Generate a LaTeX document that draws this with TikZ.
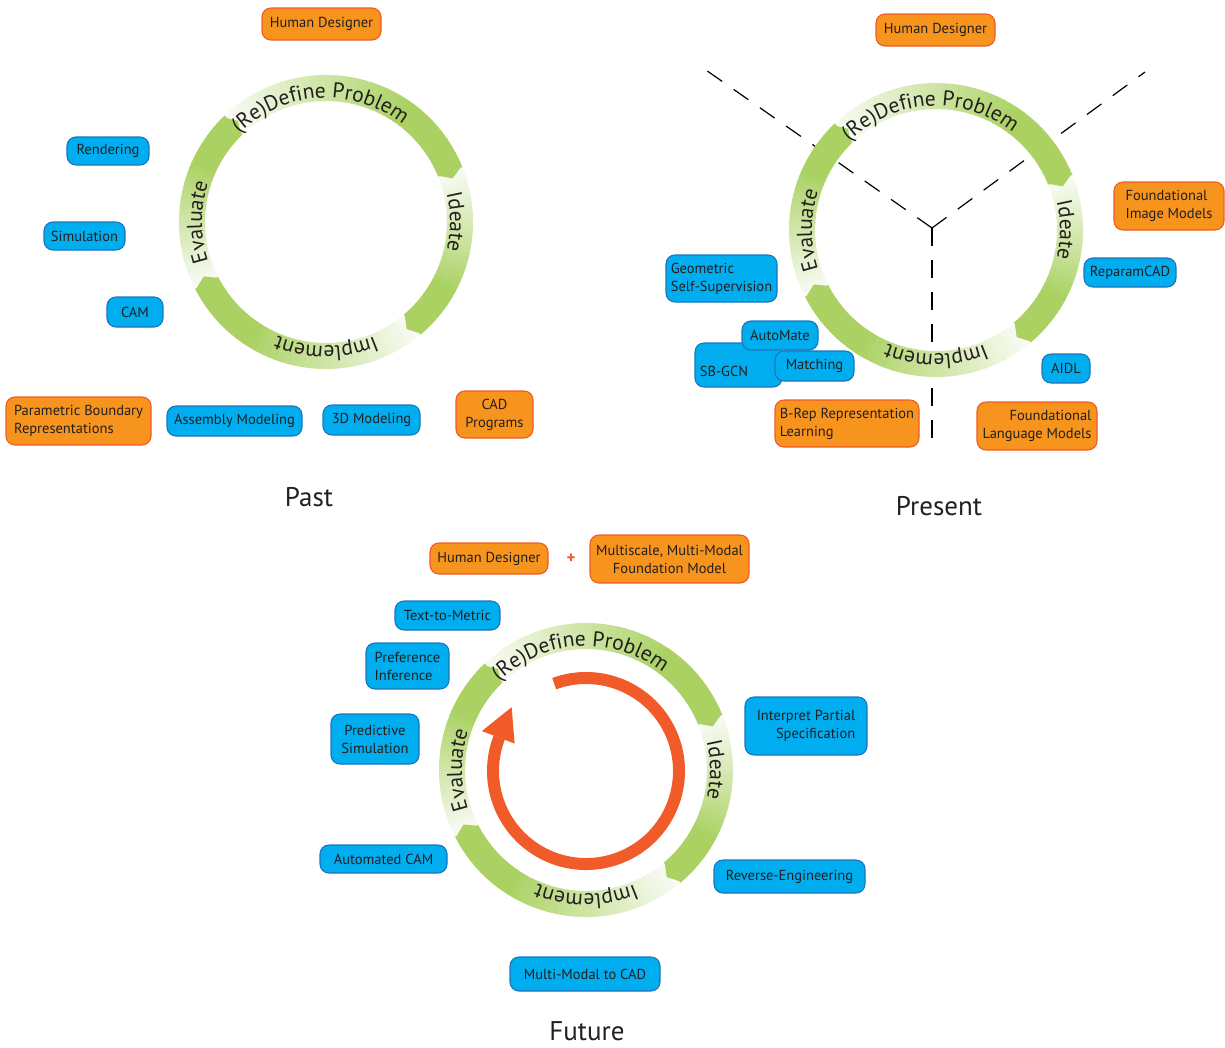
\documentclass[tikz,border=0pt]{standalone}
\usepackage{fontspec}
\setmainfont{PT Sans}
\usetikzlibrary{decorations.text,calc}

\definecolor{txt}{HTML}{231F20}
\definecolor{boxblue}{HTML}{00AEEF}
\definecolor{boxblueedge}{HTML}{1B75BC}
\definecolor{boxorange}{HTML}{F7941D}
\definecolor{boxorangeedge}{HTML}{F15A29}
\definecolor{ringgreen}{RGB}{170,209,98}
\definecolor{looporange}{HTML}{F15A29}

\newcommand\ringfont{\fontsize{21.5}{21.5}\selectfont}
\newcommand\boxfont{\fontsize{14.5}{18}\selectfont}
\newcommand\titlefont{\fontsize{27}{30}\selectfont}

% Design cycle ring: four gradient arc segments with curved labels
\newcommand\designring[1]{%
  \begin{scope}[shift={#1}]
    \foreach \angT/\angH in {134/22, 22/-50, -50/-153, -153/-226}{
      \foreach \k in {0,...,35}{
        \pgfmathsetmacro\angA{\angT-(\angT-\angH)*\k/36}
        \pgfmathsetmacro\angB{\angT-(\angT-\angH)*(\k+1)/36-0.4}
        \pgfmathtruncatemacro\pct{min(100,8+92*\k/25)}
        \fill[ringgreen!\pct!white] (\angA:147pt) arc[start angle=\angA, end angle=\angB, radius=147pt]
          -- (\angB:121pt) arc[start angle=\angB, end angle=\angA, radius=121pt] -- cycle;
      }
    }
    \foreach \angH in {22,-50,-153,-226}{
      \fill[ringgreen] ({\angH+0.5}:147pt) -- ({\angH-3}:134pt) -- ({\angH+0.5}:121pt) -- cycle;
    }
    \path[decorate, decoration={text along path, text align=center, text color=txt,
      text={|\ringfont|(Re)Define Problem}}]
      (143:124pt) arc[start angle=143, end angle=43, radius=124pt];
    \path[decorate, decoration={text along path, text align=center, text color=txt,
      text={|\ringfont|Ideate}}]
      (50:124pt) arc[start angle=50, end angle=-50, radius=124pt];
    \path[decorate, decoration={text along path, text align=center, text color=txt,
      text={|\ringfont|Implement}}]
      (-40:124pt) arc[start angle=-40, end angle=-140, radius=124pt];
    \path[decorate, decoration={text along path, text align=center, text color=txt,
      text={|\ringfont|Evaluate}}]
      (230:124pt) arc[start angle=230, end angle=130, radius=124pt];
  \end{scope}}

\tikzset{
  box/.style={rounded corners=9pt, line width=1.1pt, inner xsep=4pt, inner ysep=0pt,
    font=\boxfont, text=txt, align=center},
  bbox/.style={box, fill=boxblue, draw=boxblueedge},
  obox/.style={box, fill=boxorange, draw=boxorangeedge},
  title/.style={font=\titlefont, text=txt, anchor=base},
  guide/.style={draw=black, line width=1.2pt, dash pattern=on 18pt off 14pt}
}

\begin{document}
\begin{tikzpicture}[x=1pt, y=1pt]
\useasboundingbox (0,0) rectangle (1225,-1047);

% ---------------- Past ----------------
\designring{(326,-222)}
\node[obox, minimum width=119pt, minimum height=32pt] (past-hd) at (321.5,-24) {Human Designer};
\node[bbox, minimum width=82pt, minimum height=28pt] (past-rend) at (108,-151) {Rendering};
\node[bbox, minimum width=81pt, minimum height=28pt] (past-sim) at (84.5,-236) {Simulation};
\node[bbox, minimum width=56pt, minimum height=30pt] (past-cam) at (135,-312) {CAM};
\node[obox, align=left, minimum width=145pt, minimum height=48pt] (past-pbr) at (78.5,-421) {Parametric Boundary\\Representations};
\node[bbox, minimum width=135pt, minimum height=30pt] (past-asm) at (234.5,-421) {Assembly Modeling};
\node[bbox, minimum width=97pt, minimum height=30pt] (past-3d) at (371.5,-420) {3D Modeling};
\node[obox, minimum width=77pt, minimum height=47pt] (past-cad) at (494.5,-414.5) {CAD\\Programs};
\node[title] (past-title) at (309,-506) {Past};

% ---------------- Present ----------------
\coordinate (pres-c) at (932,-228);
\coordinate (pres-ul) at (703,-68);
\coordinate (pres-ur) at (1145,-72);
\coordinate (pres-dn) at (932,-452);
\draw[guide] (pres-c) -- (pres-ul);
\draw[guide] (pres-c) -- (pres-ur);
\draw[guide] (pres-c) -- (pres-dn);
\designring{(936,-230)}
\node[obox, minimum width=119pt, minimum height=32pt] (pres-hd) at (935.5,-30) {Human Designer};
\node[obox, align=left, minimum width=110pt, minimum height=48pt] (pres-fim) at (1169,-206) {Foundational\\Image Models};
\node[bbox, minimum width=92pt, minimum height=29pt] (pres-rep) at (1130,-272.5) {ReparamCAD};
\node[bbox, align=left, minimum width=111pt, minimum height=47pt] (pres-geo) at (721.5,-278.5) {Geometric\\Self-Supervision};
\node[bbox, minimum width=87pt, minimum height=44pt] (pres-sbgcn) at (738.5,-365) {};
\node[font=\boxfont, text=txt, inner sep=0pt] (pres-sbgcn-text) at (724,-371) {SB-GCN};
\node[bbox, minimum width=76pt, minimum height=29pt] (pres-auto) at (780,-335.5) {AutoMate};
\node[bbox, minimum width=79pt, minimum height=30pt] (pres-match) at (814.5,-366) {Matching};
\node[obox, align=left, minimum width=144pt, minimum height=47pt] (pres-brep) at (847,-423.5) {B-Rep Representation\\Learning};
\node[bbox, minimum width=48pt, minimum height=29pt] (pres-aidl) at (1066,-368.5) {AIDL};
\node[obox, align=right, minimum width=120pt, minimum height=48pt] (pres-flm) at (1037,-426) {Foundational\\Language Models};
\node[title] (pres-title) at (939,-515) {Present};

% ---------------- Future ----------------
\designring{(586,-770)}
\begin{scope}[shift={(586,-771)}]
  \draw[looporange, line width=12pt] (110:93pt) arc[start angle=110, end angle=-201, radius=93pt];
  \fill[looporange] (159:111.5pt) -- (159:76.5pt) -- ($(159:94pt)+(66:33pt)$) -- cycle;
\end{scope}
\node[obox, minimum width=118pt, minimum height=31pt] (fut-hd) at (489,-558.5) {Human Designer};
\node[text=looporange, font=\fontsize{17}{17}\selectfont\bfseries, inner sep=0pt] (fut-plus) at (571,-559) {+};
\node[obox, minimum width=159pt, minimum height=48pt] (fut-fm) at (669.5,-559) {Multiscale, Multi-Modal\\Foundation Model};
\node[bbox, minimum width=105pt, minimum height=29pt] (fut-t2m) at (447.5,-615.5) {Text-to-Metric};
\node[bbox, align=left, minimum width=83pt, minimum height=46pt] (fut-pref) at (407.5,-666) {Preference\\Inference};
\node[bbox, minimum width=88pt, minimum height=50pt] (fut-pred) at (375,-739) {Predictive\\Simulation};
\node[bbox, align=right, minimum width=122pt, minimum height=58pt] (fut-interp) at (806,-726) {Interpret Partial\\Specification};
\node[bbox, minimum width=127pt, minimum height=28pt] (fut-acam) at (383.5,-859) {Automated CAM};
\node[bbox, minimum width=151pt, minimum height=33pt] (fut-rev) at (789.5,-876.5) {Reverse-Engineering};
\node[bbox, minimum width=150pt, minimum height=34pt] (fut-m2c) at (585,-974) {Multi-Modal to CAD};
\node[title] (fut-title) at (587,-1040) {Future};
\end{tikzpicture}
\end{document}
